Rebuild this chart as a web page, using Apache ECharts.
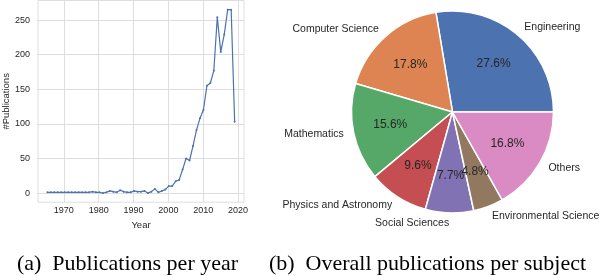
<!DOCTYPE html>
<html>
<head>
<meta charset="utf-8">
<script src="https://cdn.jsdelivr.net/npm/echarts@6/dist/echarts.min.js"></script>
<style>
html,body{margin:0;padding:0;background:#fff;}
#c{width:604px;height:276px;}
</style>
</head>
<body>
<div id="c"></div>
<script>
// ---- data ----
const years = [1965,1966,1967,1968,1969,1970,1971,1972,1973,1974,1975,1976,1977,1978,1979,1980,1981,1982,1983,1984,1985,1986,1987,1988,1989,1990,1991,1992,1993,1994,1995,1996,1997,1998,1999,2000,2001,2002,2003,2004,2005,2006,2007,2008,2009,2010,2011,2012,2013,2014,2015,2016,2017,2018,2019];
const publications = [1,1,1,1,1,1,1,1,1,1,1,1,1,2,1,1,0,1,3,2,1,4,2,1,1,3,2,2,3,0,2,6,1,3,5,10,10,17,19,34,50,47,68,91,108,120,155,159,177,254,204,229,265,265,103];
const xTicks = [1970, 2020, 10];   // first, last, step
const yTicks = [0, 250, 50];
const subjects = ["Engineering","Computer Science","Mathematics","Physics and Astronomy","Social Sciences","Environmental Science","Others"];
const shares = [27.6,17.8,15.6,9.6,7.7,4.8,16.8];
const captions = ["(a)  Publications per year","(b)  Overall publications per subject"];

// ---- layout ----
const X0 = 37, X1 = 244, Y0 = 0.5, Y1 = 202.2;
const xMin = 1962.3, xMax = 2021.7, yMin = -13.25, yMax = 278.25;
function px(v){ return X0 + (v - xMin) / (xMax - xMin) * (X1 - X0); }
function py(v){ return Y1 - (v - yMin) / (yMax - yMin) * (Y1 - Y0); }
const gridCol = '#dedede';
const txt = '#262626';
const font = 'Liberation Sans';
const colors = ['#4c72b0','#dd8452','#55a868','#c44e52','#8172b3','#937860','#da8bc3'];

const lineData = years.map((y,i)=>[y, publications[i]]);
const pieData = subjects.map((s,i)=>({name:s, value:shares[i], itemStyle:{color:colors[i]}}));

const chart = echarts.init(document.getElementById('c'), null, {renderer:'canvas'});
const R = 101, CX = 452.5, CY = 112;

chart.setOption({
  animation:false,
  backgroundColor:'#fff',
  textStyle:{fontFamily:font},
  grid:[
    {left:X0, top:Y0, width:X1-X0, height:Y1-Y0, show:true, borderColor:gridCol, borderWidth:1, backgroundColor:'transparent'},
    {left:px(xTicks[0]), top:Y0, width:px(xTicks[1])-px(xTicks[0]), height:Y1-Y0},
    {left:X0, top:py(yTicks[1]), width:X1-X0, height:py(yTicks[0])-py(yTicks[1])}
  ],
  xAxis:[
    {gridIndex:0, type:'value', min:xMin, max:xMax, axisLine:{show:false}, axisTick:{show:false}, axisLabel:{show:false}, splitLine:{show:false},
     name:'Year', nameLocation:'middle', nameGap:18, nameTextStyle:{color:txt, fontSize:9.5, fontFamily:font}},
    {gridIndex:1, type:'value', min:xTicks[0], max:xTicks[1], interval:xTicks[2], axisLine:{show:false}, axisTick:{show:false},
     axisLabel:{show:true, color:txt, fontSize:9, margin:4, fontFamily:font, formatter:(v)=>String(v)}, splitLine:{show:true, lineStyle:{color:gridCol, width:1}}},
    {gridIndex:2, type:'value', min:0, max:1, show:false}
  ],
  yAxis:[
    {gridIndex:0, type:'value', min:yMin, max:yMax, axisLine:{show:false}, axisTick:{show:false}, axisLabel:{show:false}, splitLine:{show:false},
     name:'#Publications', nameLocation:'middle', nameGap:27, nameRotate:90, nameTextStyle:{color:txt, fontSize:9.5, fontFamily:font}},
    {gridIndex:1, type:'value', min:0, max:1, show:false},
    {gridIndex:2, type:'value', min:yTicks[0], max:yTicks[1], interval:yTicks[2], axisLine:{show:false}, axisTick:{show:false},
     axisLabel:{show:true, color:txt, fontSize:9, margin:7, fontFamily:font, formatter:(v)=>String(v)}, splitLine:{show:true, lineStyle:{color:gridCol, width:1}}}
  ],
  series:[
    {type:'line', xAxisIndex:0, yAxisIndex:0, data:lineData, symbol:'circle', symbolSize:2, showSymbol:true,
     lineStyle:{color:'#4c72b0', width:1.2}, itemStyle:{color:'#4c72b0'}, z:5},
    {type:'pie', center:[CX,CY], radius:[0,R], startAngle:0, clockwise:false, avoidLabelOverlap:false,
     data:pieData, itemStyle:{borderColor:'#fff', borderWidth:1.5},
     label:{show:true, position:'outside', color:txt, fontSize:10.5, fontFamily:font, distanceToLabelLine:0, formatter:'{b}'},
     labelLine:{show:false, length:R*0.1, length2:0}, labelLayout:{hideOverlap:false}, emphasis:{disabled:true}, silent:true},
    {type:'pie', center:[CX,CY], radius:[R*0.2,R], startAngle:0, clockwise:false, avoidLabelOverlap:false,
     data:subjects.map((s,i)=>({name:s, value:shares[i]})),
     itemStyle:{color:'rgba(0,0,0,0)', borderWidth:0},
     label:{show:true, position:'inside', overflow:'none', color:txt, fontSize:12, fontFamily:font, formatter:(p)=>p.percent.toFixed(1)+'%'},
     labelLine:{show:false}, labelLayout:{hideOverlap:false}, emphasis:{disabled:true}, silent:true, z:3}
  ],
  graphic:[
    {type:'text', x:127.5, y:264, style:{text:captions[0], font:'22px "Liberation Serif"', fill:'#000', textAlign:'center', textVerticalAlign:'middle'}},
    {type:'text', x:427.5, y:264, style:{text:captions[1], font:'22px "Liberation Serif"', fill:'#000', textAlign:'center', textVerticalAlign:'middle'}}
  ]
});
</script>
</body>
</html>
